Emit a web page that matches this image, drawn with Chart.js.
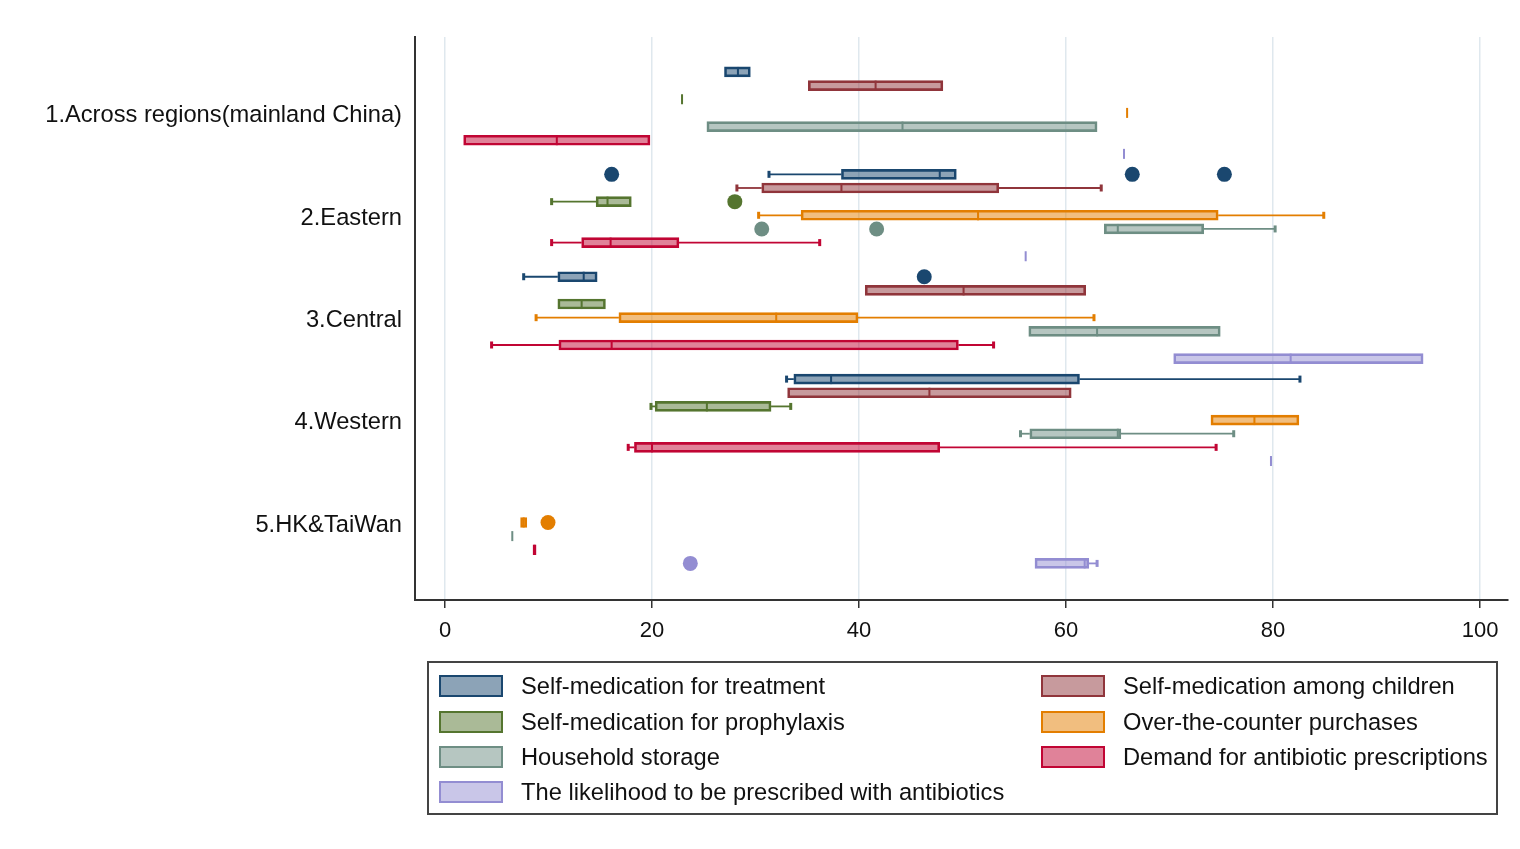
<!DOCTYPE html>
<html>
<head>
<meta charset="utf-8">
<script src="https://cdn.jsdelivr.net/npm/chart.js@4.4.1/dist/chart.umd.min.js"></script>
<style>
html,body{margin:0;padding:0;background:#fff;}
#wrap{position:relative;width:1520px;height:849px;}
#legend{position:absolute;left:427px;top:661px;width:1067px;height:150px;border:2px solid #444;font-family:"Liberation Sans",Arial,sans-serif;font-size:23.7px;color:#111;}
.item{position:absolute;height:22px;display:flex;align-items:center;white-space:nowrap;}
.sw{width:60px;height:18px;border:2px solid;margin-right:18px;flex:none;}
</style>
</head>
<body>
<div id="wrap">
<canvas id="c" width="1520" height="849"></canvas>
<div id="legend"></div>
</div>
<script>
// ---- data ----
const groups = ["1.Across regions(mainland China)", "2.Eastern", "3.Central", "4.Western", "5.HK&TaiWan"];
const seriesNames = ["Self-medication for treatment", "Self-medication among children", "Self-medication for prophylaxis",
  "Over-the-counter purchases", "Household storage", "Demand for antibiotic prescriptions",
  "The likelihood to be prescribed with antibiotics"];
const xTicks = [0, 20, 40, 60, 80, 100];

// each entry per group: [lower whisker, Q1, median, Q3, upper whisker]
const treatment   = [[27.0,27.0,28.3,29.5,29.5],[31.3,38.3,47.8,49.4,49.4],[7.6,10.9,13.4,14.7,14.7],[33.0,33.7,37.3,61.3,82.6],null];
const children    = [[35.1,35.1,41.6,48.1,48.1],[28.2,30.6,38.3,53.5,63.4],[40.6,40.6,50.1,61.9,61.9],[33.1,33.1,46.8,60.5,60.5],null];
const prophylaxis = [[22.9,22.9,22.9,22.9,22.9],[10.3,14.6,15.7,18.0,18.0],[10.9,10.9,13.2,15.5,15.5],[19.9,20.3,25.3,31.5,33.4],null];
const otc         = [[65.9,65.9,65.9,65.9,65.9],[30.3,34.4,51.5,74.7,84.9],[8.8,16.8,32.0,39.9,62.7],[74.0,74.0,78.2,82.5,82.5],[7.3,7.3,7.6,7.9,7.9]];
const storage     = [[25.3,25.3,44.2,63.0,63.0],[63.7,63.7,65.0,73.3,80.2],[56.4,56.4,63.0,74.9,74.9],[55.6,56.5,65.0,65.3,76.2],[6.5,6.5,6.5,6.5,6.5]];
const demand      = [[1.8,1.8,10.8,19.8,19.8],[10.3,13.2,16.0,22.6,36.2],[4.5,11.0,16.1,49.6,53.0],[17.7,18.3,20.0,47.8,74.5],[8.5,8.5,8.65,8.8,8.8]];
const likelihood  = [[65.6,65.6,65.6,65.6,65.6],[56.1,56.1,56.1,56.1,56.1],[70.4,70.4,81.7,94.5,94.5],[79.8,79.8,79.8,79.8,79.8],[57.0,57.0,61.8,62.2,63.0]];

// outside values per group
const treatmentOut   = [[],[16.1,66.4,75.3],[46.3],[],[]];
const childrenOut    = [[],[],[],[],[]];
const prophylaxisOut = [[],[28.0],[],[],[]];
const otcOut         = [[],[],[],[],[9.95]];
const storageOut     = [[],[30.6,41.7],[],[],[]];
const demandOut      = [[],[],[],[],[]];
const likelihoodOut  = [[],[],[],[],[23.7]];

// ---- styling ----
const colors = ["#1a476f","#90353b","#55752f","#e37e00","#6e8e84","#c10534","#938dd2"];
function fade(hex, a){const n=parseInt(hex.slice(1),16);return `rgba(${n>>16},${(n>>8)&255},${n&255},${a})`;}
const allStats = [treatment, children, prophylaxis, otc, storage, demand, likelihood];
const allOut = [treatmentOut, childrenOut, prophylaxisOut, otcOut, storageOut, demandOut, likelihoodOut];
const GROUP_STEP = 7.5;
const pos = (g, s) => g * GROUP_STEP + s;

const datasets = [];
allStats.forEach((stats, s) => {
  const data = [];
  stats.forEach((st, g) => { if (st) data.push({x: [st[1], st[3]], y: pos(g, s)}); });
  datasets.push({
    type: 'bar', indexAxis: 'y', label: seriesNames[s], data,
    backgroundColor: fade(colors[s], 0.5), borderColor: colors[s], borderWidth: 2,
    borderSkipped: false, barThickness: 10, grouped: false, order: 2
  });
});
allOut.forEach((outs, s) => {
  const data = [];
  outs.forEach((arr, g) => arr.forEach(v => data.push({x: v, y: pos(g, s)})));
  if (data.length) datasets.push({
    type: 'scatter', indexAxis: 'y', label: seriesNames[s] + ' outliers', data,
    pointRadius: 7.5, pointHoverRadius: 7.5, backgroundColor: colors[s], borderWidth: 0, order: 1
  });
});

const boxExtras = {
  id: 'boxExtras',
  beforeDatasetsDraw(chart) {
    const {ctx, scales: {x, y}} = chart;
    ctx.save();
    allStats.forEach((stats, s) => stats.forEach((st, g) => {
      if (!st) return;
      const py = y.getPixelForValue(pos(g, s));
      ctx.strokeStyle = colors[s]; ctx.fillStyle = colors[s]; ctx.lineWidth = 1.8;
      const seg = (a, b) => {
        const pa = x.getPixelForValue(a), pb = x.getPixelForValue(b);
        ctx.beginPath(); ctx.moveTo(pa, py); ctx.lineTo(pb, py); ctx.stroke();
        ctx.fillRect(pa - 1.5, py - 3.5, 3, 7);
      };
      if (st[0] < st[1]) seg(st[0], st[1]);
      if (st[4] > st[3]) seg(st[4], st[3]);
    }));
    ctx.restore();
  },
  afterDatasetsDraw(chart) {
    const {ctx, scales: {x, y}} = chart;
    ctx.save();
    allStats.forEach((stats, s) => stats.forEach((st, g) => {
      if (!st) return;
      const py = y.getPixelForValue(pos(g, s));
      const px = x.getPixelForValue(st[2]);
      ctx.fillStyle = colors[s];
      ctx.fillRect(px - 1, py - 5, 2, 10);
    }));
    ctx.restore();
  }
};

new Chart(document.getElementById('c'), {
  type: 'bar',
  data: {datasets},
  plugins: [boxExtras],
  options: {
    indexAxis: 'y',
    responsive: false,
    animation: false,
    devicePixelRatio: 1,
    layout: {padding: {top: 37, right: 12, bottom: 189, left: 0}},
    plugins: {legend: {display: false}, tooltip: {enabled: false}},
    scales: {
      x: {
        type: 'linear', position: 'bottom', min: -2.9, max: 102.7, offset: false,
        afterFit: s => { s.height = 60; },
        afterBuildTicks: s => { s.ticks = xTicks.map(v => ({value: v})); },
        grid: {color: '#dfe8ee', lineWidth: 1.5, offset: false, drawTicks: true, tickLength: 8, tickColor: '#333', tickWidth: 1.5},
        border: {display: true, color: '#333', width: 2},
        ticks: {font: {family: '"Liberation Sans", Arial, sans-serif', size: 22}, color: '#111', padding: 10, maxRotation: 0, autoSkip: false}
      },
      y: {
        type: 'linear', position: 'left', reverse: true, min: -2.56, max: 38.68, offset: false,
        afterFit: s => { s.width = 415; },
        afterBuildTicks: s => { s.ticks = groups.map((_, g) => ({value: pos(g, 3.2)})); },
        grid: {display: false, drawTicks: false, offset: false},
        border: {display: true, color: '#333', width: 2},
        ticks: {font: {family: '"Liberation Sans", Arial, sans-serif', size: 23.7}, color: '#111', padding: 13, autoSkip: false,
          callback: (v, i) => groups[i]}
      }
    }
  }
});

// legend (Stata style, two columns, row-wise)
const leg = document.getElementById('legend');
const rowsY = [12, 48, 83, 118];
seriesNames.forEach((name, i) => {
  const col = i % 2, row = Math.floor(i / 2);
  const it = document.createElement('div');
  it.className = 'item';
  it.style.left = (col ? 612 : 10) + 'px';
  it.style.top = rowsY[row] + 'px';
  const sw = document.createElement('span');
  sw.className = 'sw';
  sw.style.borderColor = colors[i];
  sw.style.background = fade(colors[i], 0.5);
  const tx = document.createElement('span');
  tx.textContent = name;
  it.appendChild(sw); it.appendChild(tx);
  leg.appendChild(it);
});
</script>
</body>
</html>
